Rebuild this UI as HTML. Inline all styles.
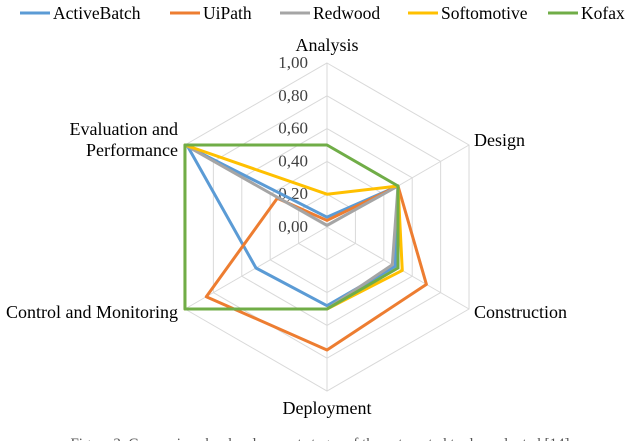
<!DOCTYPE html>
<html><head><meta charset="utf-8"><style>
body{margin:0;background:#fff;}
svg{display:block;font-family:"Liberation Serif",serif;}
</style></head><body>
<svg id="c" width="640" height="441"></svg>
<script>
const axesLabels=["Analysis","Design","Construction","Deployment","Control and Monitoring","Evaluation and Performance"];
const seriesNames=["ActiveBatch","UiPath","Redwood","Softomotive","Kofax"];
const activeBatch=[0.06,0.5,0.48,0.48,0.5,0.98];
const uiPath=[0.04,0.5,0.7,0.75,0.85,0.35];
const redwood=[0.01,0.5,0.46,0.5,1,1];
const softomotive=[0.2,0.5,0.53,0.5,1,1];
const kofax=[0.5,0.5,0.5,0.5,1,1];
const tickLabels=["0,00","0,20","0,40","0,60","0,80","1,00"];
const tickValues=[0,0.2,0.4,0.6,0.8,1];
const colors=["#5b9bd5","#ed7d31","#a5a5a5","#ffc000","#70ad47"];
const data=[activeBatch,uiPath,redwood,softomotive,kofax];
const NS="http://www.w3.org/2000/svg";
const svg=document.getElementById("c");
const cx=327,cy=227,R=164;
function pt(i,v){const a=-Math.PI/2+i*Math.PI/3;return [cx+R*v*Math.cos(a),cy+R*v*Math.sin(a)];}
function mk(t,attrs){const e=document.createElementNS(NS,t);for(const k in attrs)e.setAttribute(k,attrs[k]);svg.appendChild(e);return e;}
tickValues.forEach((v,j)=>{if(v===0)return;
 const g=mk("polygon",{points:axesLabels.map((_,i)=>pt(i,v).join(",")).join(" "),fill:"none",stroke:"#d9d9d9","stroke-width":1});
 
 
});
axesLabels.forEach((_,i)=>{const p=pt(i,1);const l=mk("line",{x1:cx,y1:cy,x2:p[0],y2:p[1],stroke:"#d9d9d9","stroke-width":1});
 
 
});
tickValues.forEach((v,j)=>{const t=mk("text",{x:308,y:cy-R*v+5,"text-anchor":"end","font-size":"17",fill:"#404040"});t.textContent=tickLabels[j];
 
 
});
data.forEach((d,s)=>{const p=mk("polygon",{points:d.map((v,i)=>pt(i,v).join(",")).join(" "),fill:"none",stroke:colors[s],"stroke-width":3,"stroke-linejoin":"round"});
 
 
});
const lab=[[327,51,"middle",[axesLabels[0]]],[474,146,"start",[axesLabels[1]]],[474,318,"start",[axesLabels[2]]],[327,414,"middle",[axesLabels[3]]],[178,318,"end",[axesLabels[4]]],[178,135,"end",["Evaluation and","Performance"]]];
lab.forEach((L,i)=>{L[3].forEach((s,k)=>{const t=mk("text",{x:L[0],y:L[1]+k*21,"text-anchor":L[2],"font-size":"18",fill:"#000"});t.textContent=s;
 
 
});});
const lx=[20,170,280,408,548];
seriesNames.forEach((n,s)=>{const l=mk("line",{x1:lx[s],y1:13,x2:lx[s]+30,y2:13,stroke:colors[s],"stroke-width":3});
 
 
 const t=mk("text",{x:lx[s]+33,y:19,"font-size":"17.5",fill:"#000"});t.textContent=n;
 
 
});
const cap=mk("text",{x:320,y:448,"text-anchor":"middle","font-size":"15",fill:"#555"});cap.textContent="Figure 3. Comparison by development stages of the automated tools evaluated [14]";


</script>
</body></html>
